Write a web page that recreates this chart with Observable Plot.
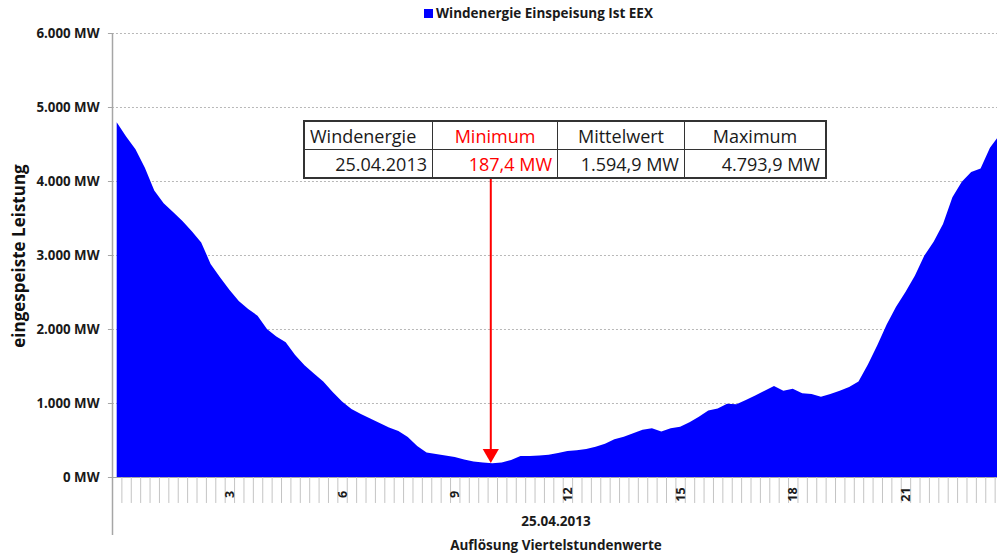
<!DOCTYPE html>
<html>
<head>
<meta charset="utf-8">
<script src="https://cdn.jsdelivr.net/npm/d3@7"></script>
<script src="https://cdn.jsdelivr.net/npm/@observablehq/plot@0.6"></script>
<style>
  html, body { margin: 0; padding: 0; background: #fff; overflow: hidden; }
  #wrap { position: relative; width: 997px; height: 559px; font-family: "Open Sans", sans-serif; }
  #wrap svg { position: absolute; left: 0; top: 0; }
  .legend { position: absolute; top: 4px; left: 424px; font-size: 13.5px; font-weight: bold; color: #1a1a1a; white-space: nowrap; }
  .legend .sw { display: inline-block; width: 9px; height: 9px; background: #0000ff; margin-right: 3px; vertical-align: 0px; }
  .ytitle { position: absolute; left: 18px; top: 256px; transform: translate(-50%, -50%) rotate(-90deg); font-size: 17px; font-weight: bold; color: #111; white-space: nowrap; }
  .xlab { position: absolute; left: 556px; transform: translateX(-50%); font-size: 13.5px; font-weight: bold; color: #1a1a1a; white-space: nowrap; }
  table.stats { position: absolute; left: 303px; top: 120px; border-collapse: collapse; border: 2px solid #333; background: #fff; font-size: 18px; color: #1a1a1a; }
  table.stats td { border: 1px solid #333; height: 27px; padding: 0 5px; line-height: 26px; white-space: nowrap; }
</style>
</head>
<body>
<div id="wrap"></div>
<script>
// ---- data (quarter-hour values, 25.04.2013, MW) ----
const quarterValues = [
  4794, 4600, 4430, 4180, 3870, 3700, 3580, 3460, 3320, 3170,
  2880, 2700, 2530, 2380, 2270, 2180, 2000, 1900, 1820, 1650,
  1510, 1400, 1290, 1150, 1020, 920, 850, 790, 730, 670,
  620, 540, 420, 330, 310, 290, 270, 235, 210, 195,
  187.4, 195, 230, 285, 285, 290, 300, 325, 350, 360,
  380, 410, 450, 510, 545, 590, 640, 658, 615, 660,
  680, 740, 815, 900, 925, 990, 982, 1040, 1100, 1166,
  1230, 1165, 1193, 1131, 1122, 1085, 1120, 1165, 1215, 1290,
  1520, 1780, 2060, 2300, 2500, 2720, 2990, 3180, 3420, 3780,
  3990, 4120, 4170, 4450, 4620, 4700
];
const hourLabelIndex = [12, 24, 36, 48, 60, 72, 84];
const hourLabels = ["3", "6", "9", "12", "15", "18", "21"];
const yTicks = [0, 1000, 2000, 3000, 4000, 5000, 6000];
const yTickLabels = ["0 MW", "1.000 MW", "2.000 MW", "3.000 MW", "4.000 MW", "5.000 MW", "6.000 MW"];
const legendLabel = "Windenergie Einspeisung Ist EEX";
const yTitle = "eingespeiste Leistung";
const dateLabel = "25.04.2013";
const xTitle = "Auflösung Viertelstundenwerte";
const tableHeader = ["Windenergie", "Minimum", "Mittelwert", "Maximum"];
const tableValues = ["25.04.2013", "187,4 MW", "1.594,9 MW", "4.793,9 MW"];
const minIndex = 40;
const minValue = 187.4;

// ---- build ----
const series = quarterValues.map((v, k) => ({k, v}));
const tickBounds = d3.range(1, 96).map(m => m - 0.5);
const labelRows = hourLabelIndex.map((k, i) => ({k, t: hourLabels[i]}));
const yRows = yTicks.map((v, i) => ({v, t: yTickLabels[i]}));

const chart = Plot.plot({
  width: 997,
  height: 559,
  marginLeft: 112,
  marginRight: 0,
  marginTop: 33,
  marginBottom: 82,
  style: {fontFamily: "Open Sans, sans-serif", background: "transparent"},
  x: {domain: [-0.5, 93.75], axis: null},
  y: {domain: [0, 6000], axis: null},
  marks: [
    Plot.ruleY(yTicks.filter(v => v > 0), {x1: -0.93, x2: 93.75, stroke: "#b8b8b8", strokeDasharray: "2,2"}),
    Plot.areaY(series, {x: "k", y: "v", fill: "#0000ff", curve: "linear", clip: true}),
    Plot.ruleY([0], {x1: -0.93, x2: 93.75, stroke: "#a6a6a6"}),
    Plot.ruleX(tickBounds, {y1: 0, y2: -351, stroke: "#c4c4c4"}),
    Plot.ruleX([-0.5], {y1: 6000, y2: -784, stroke: "#a6a6a6", strokeWidth: 1.5}),
    Plot.ruleY(yTicks, {x1: -0.93, x2: -0.5, stroke: "#a6a6a6"}),
    Plot.text(yRows, {x: -0.5, y: "v", text: "t", textAnchor: "end", dx: -13, fontSize: 13.3, fontWeight: "bold", fill: "#1a1a1a"}),
    Plot.text(labelRows, {x: "k", y: 0, dy: 17, text: "t", rotate: -90, fontSize: 12.5, fontWeight: "bold", fill: "#1a1a1a"}),
    Plot.ruleX([minIndex], {y1: 4040, y2: 360, stroke: "#ff0000", strokeWidth: 2, dx: -2}),
    Plot.dot([{k: minIndex, v: minValue}], {x: "k", y: "v", symbol: "triangle", r: 6, rotate: 180, fill: "#ff0000", stroke: "none", dx: -2, dy: -10})
  ]
});

const wrap = document.getElementById("wrap");
wrap.appendChild(chart);

const legend = document.createElement("div");
legend.className = "legend";
legend.innerHTML = '<span class="sw"></span>' + legendLabel;
wrap.appendChild(legend);

const yt = document.createElement("div");
yt.className = "ytitle";
yt.textContent = yTitle;
wrap.appendChild(yt);

const d1 = document.createElement("div");
d1.className = "xlab"; d1.style.top = "512px"; d1.textContent = dateLabel;
wrap.appendChild(d1);
const d2 = document.createElement("div");
d2.className = "xlab"; d2.style.top = "536px"; d2.textContent = xTitle;
wrap.appendChild(d2);

const colW = [128, 125, 127, 141];
const tbl = document.createElement("table");
tbl.className = "stats";
const r1 = tbl.insertRow(), r2 = tbl.insertRow();
tableHeader.forEach((h, i) => {
  const c = r1.insertCell();
  c.textContent = h;
  c.style.width = (colW[i] - 11) + "px";
  c.style.textAlign = i === 0 ? "left" : "center";
  if (i === 1) c.style.color = "#ff0000";
});
tableValues.forEach((h, i) => {
  const c = r2.insertCell();
  c.textContent = h;
  c.style.textAlign = "right";
  if (i === 1) c.style.color = "#ff0000";
});
wrap.appendChild(tbl);
</script>
</body>
</html>
